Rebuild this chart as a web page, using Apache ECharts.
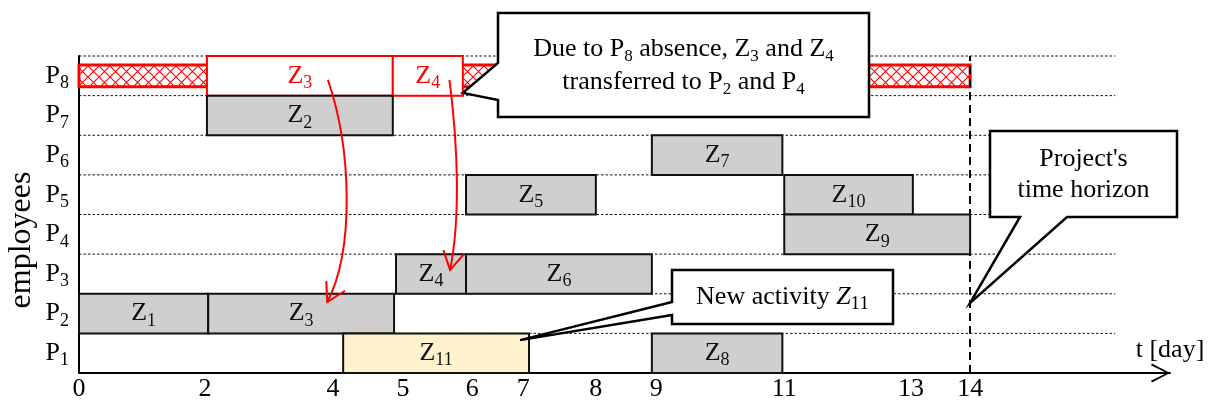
<!DOCTYPE html>
<html><head><meta charset="utf-8">
<script src="https://cdn.jsdelivr.net/npm/echarts@6/dist/echarts.min.js"></script>
<style>html,body{margin:0;padding:0;background:#fff}#c{width:1208px;height:403px}</style>
</head><body><div id="c"></div>
<script>
// ---------- data ----------
const employees = ['P1', 'P2', 'P3', 'P4', 'P5', 'P6', 'P7', 'P8'];
// scheduled activities (row = employee index)
const taskSub   = ['1',  '3',   '4',   '6',   '11',  '8',   '7',   '5',   '10',  '9',   '2'];
const taskRow   = [1,    1,     2,     2,     0,     0,     5,     4,     4,     3,     6];
const taskStart = [0,    2.03,  4.98,  6.08,  4.15,  9.0,   9.0,   6.08,  11.08, 11.08, 2.01];
const taskEnd   = [2.03, 4.95,  6.08,  9.0,   7.07,  11.05, 11.05, 8.12,  13.1,  14.0,  4.93];
const taskNew   = [false,false, false, false, true,  false, false, false, false, false, false];
// absence of P8 and the activities it loses
const absenceRow = 7, absenceStart = 0, absenceEnd = 14;
const movedSub   = ['3', '4'];
const movedStart = [2.01, 4.93];
const movedEnd   = [4.93, 6.03];
const horizon = 14;
// x tick labels and where they sit on the drawing
const tickLabels    = ['0', '2', '4', '5', '6', '7', '8', '9', '11', '13', '14'];
const tickPositions = [0, 1.98, 3.99, 5.09, 6.18, 6.98, 8.12, 9.07, 11.08, 13.07, 14.0];
const xMax = 17.14;
const gridLineEnd = 16.28;

// ---------- style ----------
const SERIF = '"Liberation Serif", "Times New Roman", serif';
const GREY = '#d0cece', NEWC = '#fff2cc', RED = '#ff0000';

const pc = document.createElement('canvas');
pc.width = 11; pc.height = 11;
(function () {
  const g = pc.getContext('2d');
  g.strokeStyle = RED; g.lineWidth = 1.1;
  g.beginPath(); g.moveTo(0, 0); g.lineTo(11, 11); g.moveTo(11, 0); g.lineTo(0, 11); g.stroke();
})();

function zLabel(sub, color) {
  return {
    style: {
      text: '{z|Z}{s|' + sub + '}',
      rich: {
        z: { fontFamily: SERIF, fontSize: 26, fill: color },
        s: { fontFamily: SERIF, fontSize: 18, fill: color, padding: [15, 0, 0, 0] }
      },
      align: 'center', verticalAlign: 'middle'
    }
  };
}

function rectOf(api, row, s, e, hf) {
  const p0 = api.coord([s, row]), p1 = api.coord([e, row]);
  const h = api.size([0, 1])[1] * hf;
  return { x: p0[0], y: p0[1] - h / 2, width: p1[0] - p0[0], height: h };
}

const option = {
  animation: false,
  grid: { left: 79, right: 38, top: 56, bottom: 30 },
  xAxis: {
    type: 'value', min: 0, max: xMax,
    axisLine: {
      show: true, lineStyle: { color: '#000', width: 2 },
      symbol: ['none', 'path://M0,19 L10,0 L20,19 L18.2,20 L10,3.6 L1.8,20 Z'],
      symbolSize: [20, 19], symbolOffset: [0, -9.5]
    },
    axisTick: { show: false },
    splitLine: { show: false },
    axisLabel: {
      customValues: tickPositions,
      formatter: function (v) {
        let best = 0;
        tickPositions.forEach((t, i) => { if (Math.abs(t - v) < Math.abs(tickPositions[best] - v)) best = i; });
        return tickLabels[best];
      },
      fontFamily: SERIF, fontSize: 26, color: '#000', margin: 3
    },
    name: 't [day]', nameLocation: 'end', nameGap: 0,
    nameTextStyle: { fontFamily: SERIF, fontSize: 26, color: '#000', align: 'center', verticalAlign: 'bottom', padding: [0, 0, 10, 0] }
  },
  yAxis: {
    type: 'category', data: employees, boundaryGap: true,
    axisLine: { show: true, lineStyle: { color: '#000', width: 2 } },
    axisTick: { show: false },
    splitLine: { show: false },
    axisLabel: {
      margin: 10,
      formatter: v => '{p|P}{s|' + v.slice(1) + '}',
      rich: {
        p: { fontFamily: SERIF, fontSize: 26, color: '#000' },
        s: { fontFamily: SERIF, fontSize: 18, color: '#000', padding: [15, 0, 0, 0] }
      }
    }
  },
  series: [
    {
      type: 'custom', name: 'rows', z: 1, silent: true,
      encode: { x: [1, 2], y: 0 },
      data: employees.map((_, i) => [i, 0, gridLineEnd]),
      renderItem: function (params, api) {
        const r = rectOf(api, api.value(0), api.value(1), api.value(2), 1);
        return { type: 'line', shape: { x1: r.x, y1: r.y, x2: r.x + r.width, y2: r.y },
          style: { stroke: '#111', lineWidth: 1, lineDash: [2.5, 2] } };
      }
    },
    {
      type: 'line', name: 'horizon', data: [], z: 2, silent: true,
      markLine: {
        silent: true, symbol: ['none', 'none'], label: { show: false },
        lineStyle: { type: [8, 5], color: '#000', width: 2 },
        data: [{ xAxis: horizon }]
      }
    },
    {
      type: 'custom', name: 'absence', z: 3, silent: true,
      encode: { x: [1, 2], y: 0 },
      data: [[absenceRow, absenceStart, absenceEnd]],
      renderItem: function (params, api) {
        const r = rectOf(api, api.value(0), api.value(1), api.value(2), 0.55);
        return { type: 'rect', shape: r,
          style: { fill: { image: pc, repeat: 'repeat' }, stroke: RED, lineWidth: 3 } };
      }
    },
    {
      type: 'custom', name: 'moved', z: 4, silent: true,
      encode: { x: [1, 2], y: 0 },
      data: movedSub.map((s, i) => [absenceRow, movedStart[i], movedEnd[i], s]),
      renderItem: function (params, api) {
        const r = rectOf(api, api.value(0), api.value(1), api.value(2), 1);
        return { type: 'rect', shape: r,
          style: { fill: '#fff', stroke: RED, lineWidth: 2 },
          textContent: zLabel(movedSub[params.dataIndex], RED),
          textConfig: { position: 'inside' } };
      }
    },
    {
      type: 'custom', name: 'tasks', z: 5, silent: true,
      encode: { x: [1, 2], y: 0 },
      data: taskSub.map((s, i) => [taskRow[i], taskStart[i], taskEnd[i]]),
      renderItem: function (params, api) {
        const i = params.dataIndex;
        const r = rectOf(api, api.value(0), api.value(1), api.value(2), 1);
        return { type: 'rect', shape: r,
          style: { fill: taskNew[i] ? NEWC : GREY, stroke: '#111', lineWidth: 2 },
          textContent: zLabel(taskSub[i], '#111'),
          textConfig: { position: 'inside' } };
      }
    }
  ]
};

const chart = echarts.init(document.getElementById('c'));
chart.setOption(option);

// ---------- annotations ----------
const band = Math.abs(chart.convertToPixel({ gridIndex: 0 }, [0, 1])[1] - chart.convertToPixel({ gridIndex: 0 }, [0, 0])[1]);
function px(x, row, frac) {
  const p = chart.convertToPixel({ gridIndex: 0 }, [x, row]);
  return [p[0], p[1] + frac * band];
}

const tip1 = px(6.03, 7, 0.43);
const tip2 = px(6.93, 0, -0.33);
const tip3 = px(horizon, 1, -0.27);

const boxStyle = { fill: '#fff', stroke: '#000', lineWidth: 2.5, lineJoin: 'miter' };
const sub = { fontFamily: SERIF, fontSize: 17, fill: '#000', padding: [14, 0, 0, 0] };
const txt = { fontFamily: SERIF, fontSize: 26, fill: '#000', lineHeight: 33 };

function arrow(start, end, c1, c2) {
  const cp1 = [start[0] + c1[0], start[1] + c1[1]];
  const cp2 = [end[0] + c2[0], end[1] + c2[1]];
  const dx = end[0] - cp2[0], dy = end[1] - cp2[1];
  const L = Math.hypot(dx, dy), ux = dx / L, uy = dy / L;
  const a = 30 * Math.PI / 180, len = 21;
  const w1 = [end[0] - len * (ux * Math.cos(a) - uy * Math.sin(a)), end[1] - len * (uy * Math.cos(a) + ux * Math.sin(a))];
  const w2 = [end[0] - len * (ux * Math.cos(a) + uy * Math.sin(a)), end[1] - len * (uy * Math.cos(a) - ux * Math.sin(a))];
  return [
    { type: 'bezierCurve', z: 90, silent: true,
      shape: { x1: start[0], y1: start[1], x2: end[0], y2: end[1], cpx1: cp1[0], cpy1: cp1[1], cpx2: cp2[0], cpy2: cp2[1] },
      style: { stroke: RED, lineWidth: 2, fill: null } },
    { type: 'polyline', z: 90, silent: true, shape: { points: [w1, end, w2] },
      style: { stroke: RED, lineWidth: 2, fill: null } }
  ];
}

const graphics = [
  ...arrow(px(3.91, 7, 0.1), px(3.9, 1, -0.29), [24, 70], [27, -52]),
  ...arrow(px(5.82, 7, 0.1), px(5.83, 2, -0.1), [9, 70], [10, -50]),
  { type: 'polygon', z: 100, silent: true,
    shape: { points: [[498, 13], [869, 13], [869, 117], [498, 117], [498, 100], tip1, [498, 63]] },
    style: boxStyle },
  { type: 'text', z: 101, silent: true, x: 683.5, y: 66,
    style: { text: '{t|Due to P}{b|8}{t| absence, Z}{b|3}{t| and Z}{b|4}\n{t|transferred to P}{b|2}{t| and P}{b|4}',
      rich: { t: txt, b: sub }, align: 'center', verticalAlign: 'middle' } },
  { type: 'polygon', z: 100, silent: true,
    shape: { points: [[672, 270], [893, 270], [893, 324], [672, 324], [672, 315], tip2, [672, 302]] },
    style: boxStyle },
  { type: 'text', z: 101, silent: true, x: 782.5, y: 297,
    style: { text: '{t|New activity }{i|Z}{b|11}',
      rich: { t: txt, i: Object.assign({}, txt, { fontStyle: 'italic' }), b: Object.assign({}, sub, { fontSize: 19 }) },
      align: 'center', verticalAlign: 'middle' } },
  { type: 'polygon', z: 100, silent: true,
    shape: { points: [[990, 131], [1177, 131], [1177, 217], [1067, 217], tip3, [1020, 217], [990, 217]] },
    style: boxStyle },
  { type: 'text', z: 101, silent: true, x: 1083.5, y: 175,
    style: { text: "Project's\ntime horizon", fontFamily: SERIF, fontSize: 26, lineHeight: 31, fill: '#000',
      align: 'center', verticalAlign: 'middle' } },
  { type: 'text', z: 101, silent: true, x: 22, y: 240, rotation: Math.PI / 2,
    style: { text: 'employees', fontFamily: SERIF, fontSize: 32, fill: '#000', align: 'center', verticalAlign: 'middle' } }
];
chart.setOption({ graphic: graphics });
</script>
</body></html>
